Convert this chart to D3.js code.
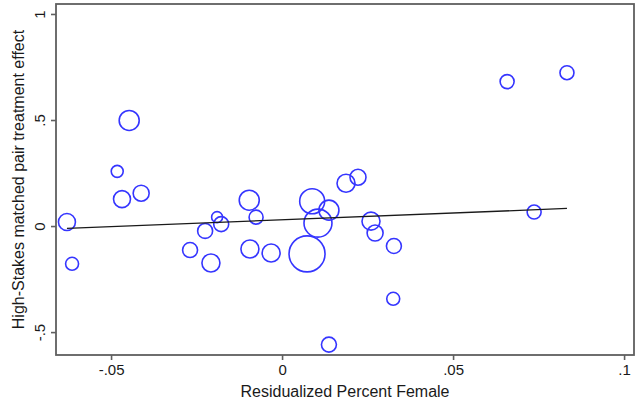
<!DOCTYPE html>
<html>
<head>
<meta charset="utf-8">
<script src="https://cdn.jsdelivr.net/npm/d3@7"></script>
<style>
  html, body { margin: 0; padding: 0; background: #fff; }
  svg { display: block; }
  text { font-family: "Liberation Sans", Arial, Helvetica, sans-serif; fill: #1a1a1a; }
</style>
</head>
<body>
<svg id="chart" width="643" height="407"></svg>
<script>
// Residualized percent female (x) for each matched pair
const pctFemale = [
  -0.0629, -0.0614, -0.0482, -0.0447, -0.0468, -0.0412, -0.0269, -0.0225,
  -0.0208, -0.0190, -0.0178, -0.0096, -0.0076, -0.0094, -0.0032, 0.0073,
  0.0088, 0.0105, 0.0137, 0.0187, 0.0222, 0.0260, 0.0272, 0.0327,
  0.0325, 0.0137, 0.0658, 0.0833, 0.0737
];
// High-stakes matched pair treatment effect (y)
const effect = [
  0.019, -0.178, 0.258, 0.498, 0.127, 0.155, -0.113, -0.023,
  -0.174, 0.042, 0.009, 0.122, 0.042, -0.108, -0.127, -0.131,
  0.117, 0.014, 0.075, 0.202, 0.230, 0.023, -0.033, -0.094,
  -0.343, -0.559, 0.681, 0.723, 0.066
];
// Analytic weight of each pair (marker area is proportional to weight)
const weight = [
  72, 42, 36, 100, 72, 64, 56, 56,
  81, 30, 56, 100, 49, 81, 81, 324,
  156, 196, 100, 81, 64, 81, 64, 56,
  42, 56, 49, 49, 49
];
// Weighted linear fit
const fitIntercept = 0.0294;
const fitSlope = 0.642;

const xTicks = [-0.05, 0, 0.05, 0.1];
const xTickLabels = ["-.05", "0", ".05", ".1"];
const yTicks = [-0.5, 0, 0.5, 1];
const yTickLabels = ["-.5", "0", ".5", "1"];

const xTitle = "Residualized Percent Female";
const yTitle = "High-Stakes matched pair treatment effect";

const svg = d3.select("#chart");
const margin = { left: 56, right: 9, top: 4, bottom: 52 };
const W = 643, H = 407;

const x = d3.scaleLinear().domain([-0.0661, 0.1029]).range([margin.left, W - margin.right]);
const y = d3.scaleLinear().domain([-0.608, 1.047]).range([H - margin.bottom, margin.top]);
const r = d3.scaleSqrt().domain([0, 324]).range([0, 18]);

const frameColor = "#5f5f5f";
const tickFont = 15;
const titleFont = 16;

// x axis with outward ticks
const xAxis = d3.axisBottom(x).tickValues(xTicks)
  .tickFormat((d, i) => xTickLabels[i]).tickSizeOuter(0).tickSize(5).tickPadding(4);
const gx = svg.append("g").attr("transform", `translate(0,${H - margin.bottom})`).call(xAxis);
gx.select(".domain").remove();
gx.selectAll(".tick line").attr("stroke", frameColor).attr("stroke-width", 1.6);
gx.selectAll(".tick text").attr("font-size", tickFont).attr("fill", "#1a1a1a")
  .attr("font-family", "Liberation Sans, Arial, sans-serif");

// y axis with rotated labels
const yAxis = d3.axisLeft(y).tickValues(yTicks)
  .tickFormat((d, i) => yTickLabels[i]).tickSizeOuter(0).tickSize(5);
const gy = svg.append("g").attr("transform", `translate(${margin.left},0)`).call(yAxis);
gy.select(".domain").remove();
gy.selectAll(".tick line").attr("stroke", frameColor).attr("stroke-width", 1.6);
gy.selectAll(".tick text")
  .attr("font-size", tickFont).attr("fill", "#1a1a1a")
  .attr("font-family", "Liberation Sans, Arial, sans-serif")
  .attr("x", 0).attr("dy", 0)
  .attr("text-anchor", "middle")
  .attr("transform", "translate(-11,0) rotate(-90)");

// plot region frame
svg.append("rect")
  .attr("x", margin.left).attr("y", margin.top)
  .attr("width", W - margin.left - margin.right)
  .attr("height", H - margin.top - margin.bottom)
  .attr("fill", "none").attr("stroke", frameColor).attr("stroke-width", 1.8);

// weighted scatter markers
const pts = pctFemale.map((v, i) => ({ x: v, y: effect[i], w: weight[i] }));
svg.append("g").selectAll("circle")
  .data(pts.slice().sort((a, b) => b.w - a.w))
  .join("circle")
  .attr("cx", d => x(d.x))
  .attr("cy", d => y(d.y))
  .attr("r", d => r(d.w))
  .attr("fill", "none")
  .attr("stroke", "#3535ff")
  .attr("stroke-width", 1.6);

// fitted line across the observed range
const [xMin, xMax] = d3.extent(pctFemale);
const fitPts = [xMin, xMax].map(v => [v, fitIntercept + fitSlope * v]);
svg.append("path")
  .attr("d", d3.line().x(d => x(d[0])).y(d => y(d[1]))(fitPts))
  .attr("fill", "none").attr("stroke", "#1a1a1a").attr("stroke-width", 1.3);

// axis titles
svg.append("text")
  .attr("x", (margin.left + W - margin.right) / 2)
  .attr("y", 397)
  .attr("text-anchor", "middle")
  .attr("font-size", titleFont)
  .text(xTitle);

svg.append("text")
  .attr("transform", `translate(24,${(margin.top + H - margin.bottom) / 2}) rotate(-90)`)
  .attr("text-anchor", "middle")
  .attr("font-size", titleFont)
  .text(yTitle);
</script>
</body>
</html>
